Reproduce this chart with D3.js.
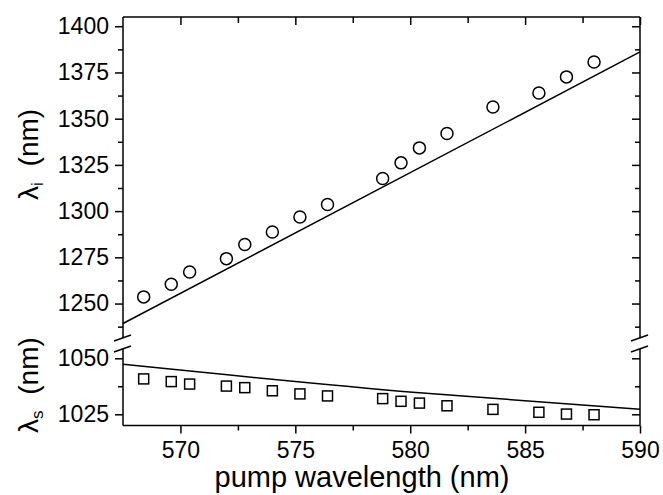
<!DOCTYPE html>
<html>
<head>
<meta charset="utf-8">
<script src="https://cdn.jsdelivr.net/npm/d3@7"></script>
<style>
  html, body { margin: 0; padding: 0; background: #fff; }
  svg { display: block; font-family: "Liberation Sans", Arial, sans-serif; }
</style>
</head>
<body>
<div id="chart"></div>
<script>
// measured pump wavelengths (nm)
const pumpWl = [568.4, 569.6, 570.4, 572.0, 572.8, 574.0, 575.2, 576.4,
                578.8, 579.6, 580.4, 581.6, 583.6, 585.6, 586.8, 588.0];
// idler wavelengths (circles)
const idlerWl = [1253.6, 1260.4, 1267.1, 1274.3, 1281.9, 1288.7, 1296.8, 1303.6,
                 1317.6, 1326.1, 1334.2, 1342.0, 1356.3, 1363.9, 1372.6, 1380.7];
// signal wavelengths (squares)
const signalWl = [1040.8, 1039.6, 1038.5, 1037.6, 1036.9, 1035.5, 1034.1, 1033.2,
                  1032.0, 1030.8, 1030.0, 1028.8, 1027.2, 1025.9, 1025.1, 1024.8];

// calculated curves
const idlerFitX = [567.5, 590];
const idlerFitY = [1239.2, 1386.1];
const signalFitX = [567.5, 580.4, 590];
const signalFitY = [1047.3, 1034.6, 1027.2];

const xTicks = [570, 575, 580, 585, 590];
const xMinor = [572.5, 577.5, 582.5, 587.5];
const upTicks = [1250, 1275, 1300, 1325, 1350, 1375, 1400];
const upMinor = [1237.5, 1262.5, 1287.5, 1312.5, 1337.5, 1362.5, 1387.5];
const lowTicks = [1025, 1050];
const lowMinor = [1037.5];

const width = 663, height = 495;
const box = { left: 123, right: 640, top: 17, bottom: 425.5, upBottom: 338, lowTop: 349 };

const svg = d3.select("#chart").append("svg")
  .attr("width", width).attr("height", height);

const x = d3.scaleLinear().domain([567.5, 590]).range([box.left, box.right]);
const kUp = 1.8487, kLow = 2.24;
const yUp = d3.scaleLinear()
  .domain([1405 - (box.upBottom - box.top) / kUp, 1405])
  .range([box.upBottom, box.top]);
const yLow = d3.scaleLinear()
  .domain([1020, 1020 + (box.bottom - box.lowTop) / kLow])
  .range([box.bottom, box.lowTop]);

const lw = 1.5;

function styleAxis(g) {
  g.select(".domain").remove();
  g.selectAll("line").attr("stroke", "#000").attr("stroke-width", lw);
  g.selectAll("text").attr("fill", "#000").attr("font-size", "23px")
    .attr("font-family", "Liberation Sans, Arial, sans-serif");
}

// bottom axis
const xb = svg.append("g").attr("transform", `translate(0,${box.bottom})`)
  .call(d3.axisBottom(x).tickValues(xTicks).tickSize(8).tickFormat(d3.format("d")));
styleAxis(xb);
xb.selectAll("text").attr("y", 32).attr("dy", 0);
svg.append("g").attr("transform", `translate(0,${box.bottom})`)
  .call(d3.axisBottom(x).tickValues(xMinor).tickSize(5).tickFormat(""))
  .call(styleAxis);

// top axis (inward ticks)
svg.append("g").attr("transform", `translate(0,${box.top})`)
  .call(d3.axisBottom(x).tickValues(xTicks).tickSize(8).tickFormat(""))
  .call(styleAxis);
svg.append("g").attr("transform", `translate(0,${box.top})`)
  .call(d3.axisBottom(x).tickValues(xMinor).tickSize(6).tickFormat(""))
  .call(styleAxis);

// left axes
function leftAxis(scale, major, minor) {
  svg.append("g").attr("transform", `translate(${box.left},0)`)
    .call(d3.axisLeft(scale).tickValues(major).tickSize(8).tickPadding(6).tickFormat(d3.format("d")))
    .call(styleAxis);
  svg.append("g").attr("transform", `translate(${box.left},0)`)
    .call(d3.axisLeft(scale).tickValues(minor).tickSize(5).tickFormat(""))
    .call(styleAxis);
}
leftAxis(yUp, upTicks, upMinor);
leftAxis(yLow, lowTicks, lowMinor);

// right axes (inward)
function rightAxis(scale, major, minor) {
  svg.append("g").attr("transform", `translate(${box.right},0)`)
    .call(d3.axisLeft(scale).tickValues(major).tickSize(8).tickFormat(""))
    .call(styleAxis);
  svg.append("g").attr("transform", `translate(${box.right},0)`)
    .call(d3.axisLeft(scale).tickValues(minor).tickSize(5).tickFormat(""))
    .call(styleAxis);
}
rightAxis(yUp, upTicks, upMinor);
rightAxis(yLow, lowTicks, lowMinor);

// frame
const frame = svg.append("g").attr("stroke", "#000").attr("stroke-width", lw)
  .attr("fill", "none");
frame.append("line").attr("x1", box.left).attr("x2", box.right).attr("y1", box.top).attr("y2", box.top);
frame.append("line").attr("x1", box.left).attr("x2", box.right).attr("y1", box.bottom).attr("y2", box.bottom);
[box.left, box.right].forEach(xx => {
  frame.append("line").attr("x1", xx).attr("x2", xx).attr("y1", box.top).attr("y2", box.upBottom);
  frame.append("line").attr("x1", xx).attr("x2", xx).attr("y1", box.lowTop).attr("y2", box.bottom);
  // break marks
  [box.upBottom, box.lowTop].forEach(yy => {
    frame.append("line")
      .attr("x1", xx - 9).attr("y1", yy + 3)
      .attr("x2", xx + 8).attr("y2", yy - 3);
  });
});

// calculated lines
const line = d3.line().curve(d3.curveMonotoneX);
svg.append("path")
  .attr("d", line(idlerFitX.map((d, i) => [x(d), yUp(idlerFitY[i])])))
  .attr("fill", "none").attr("stroke", "#000").attr("stroke-width", lw);
svg.append("path")
  .attr("d", line(signalFitX.map((d, i) => [x(d), yLow(signalFitY[i])])))
  .attr("fill", "none").attr("stroke", "#000").attr("stroke-width", lw);

// idler circles
svg.append("g").selectAll("circle")
  .data(pumpWl.map((d, i) => ({ p: d, v: idlerWl[i] })))
  .join("circle")
  .attr("cx", d => x(d.p)).attr("cy", d => yUp(d.v)).attr("r", 6)
  .attr("fill", "none").attr("stroke", "#000").attr("stroke-width", lw);

// signal squares
const sq = 10;
svg.append("g").selectAll("rect")
  .data(pumpWl.map((d, i) => ({ p: d, v: signalWl[i] })))
  .join("rect")
  .attr("x", d => x(d.p) - sq / 2).attr("y", d => yLow(d.v) - sq / 2)
  .attr("width", sq).attr("height", sq)
  .attr("fill", "none").attr("stroke", "#000").attr("stroke-width", lw);

// axis titles
svg.append("text")
  .attr("x", 362).attr("y", 487)
  .attr("text-anchor", "middle").attr("font-size", "29px")
  .text("pump wavelength (nm)");

function yTitle(sub, yStart) {
  const t = svg.append("text")
    .attr("transform", `translate(38,${yStart}) rotate(-90)`)
    .attr("font-size", "28px");
  t.append("tspan").text("λ");
  t.append("tspan").attr("font-size", "17px").attr("dy", 5).text(sub);
  t.append("tspan").attr("dy", -5).attr("dx", 8).text(" (nm)");
}
yTitle("i", 200);
yTitle("s", 433);
</script>
</body>
</html>
